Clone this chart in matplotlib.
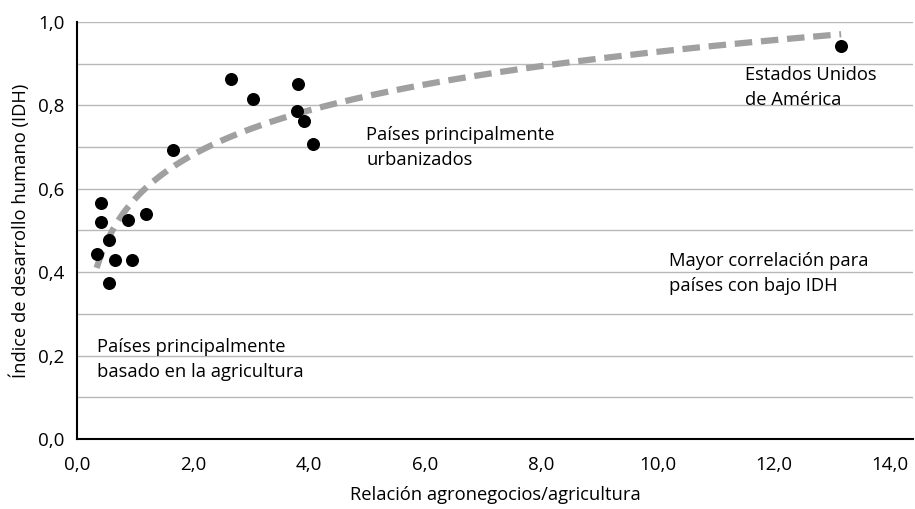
import numpy as np
import matplotlib.pyplot as plt
from matplotlib.ticker import MultipleLocator, FuncFormatter

# relación agronegocios/agricultura vs IDH
ratio = [0.34, 0.41, 0.41, 0.56, 0.66, 0.56, 0.88, 0.95, 1.19, 1.65,
         2.66, 3.03, 3.81, 3.79, 3.91, 4.06, 13.16]
idh = [0.443, 0.565, 0.521, 0.478, 0.430, 0.375, 0.525, 0.430, 0.540, 0.693,
       0.863, 0.814, 0.850, 0.787, 0.763, 0.707, 0.943]

notes = ["Países principalmente\nurbanizados",
         "Estados Unidos\nde América",
         "Mayor correlación para\npaíses con bajo IDH",
         "Países principalmente\nbasado en la agricultura"]
note_xy = [(4.98, 0.698), (11.5, 0.843), (10.2, 0.396), (0.34, 0.191)]

plt.rcParams['font.family'] = ['Open Sans', 'DejaVu Sans']

fig = plt.figure(figsize=(9.15, 5.09), dpi=100)
ax = fig.add_axes([0.084, 0.1375, 0.914, 0.8195])

# tendencia logarítmica ajustada a los puntos
x = np.array(ratio)
b, a = np.polyfit(np.log(x), np.array(idh), 1)
xt = np.linspace(x.min(), x.max(), 200)
ax.plot(xt, a + b * np.log(xt), color='#a0a0a0', lw=4.5, dashes=(2.8, 1.4), zorder=2)

ax.scatter(ratio, idh, s=70, color='black', zorder=3)

for txt, (tx, ty) in zip(notes, note_xy):
    ax.text(tx, ty, txt, fontsize=13.2, va='center', ha='left', linespacing=1.5)

ax.set_xlim(0, 14.4)
ax.set_ylim(0, 1.0)
ax.set_xticks(np.arange(0, 15, 2))
ax.yaxis.set_major_locator(MultipleLocator(0.2))
ax.yaxis.set_minor_locator(MultipleLocator(0.1))
fmt = FuncFormatter(lambda v, p: f"{v:.1f}".replace('.', ','))
ax.xaxis.set_major_formatter(fmt)
ax.yaxis.set_major_formatter(fmt)
ax.grid(axis='y', which='both', color='#b8b8b8', lw=1.0)
ax.set_axisbelow(True)
ax.tick_params(which='both', length=0, labelsize=13.5)
ax.tick_params(axis='x', pad=12)
ax.tick_params(axis='y', pad=9)

for s in ['top', 'right']:
    ax.spines[s].set_visible(False)
for s in ['left', 'bottom']:
    ax.spines[s].set_linewidth(1.5)

ax.set_xlabel('Relación agronegocios/agricultura', fontsize=13.2, labelpad=9)
ax.set_ylabel('Índice de desarrollo humano (IDH)', fontsize=13.2, labelpad=6)

fig.savefig('out.png', dpi=100)
